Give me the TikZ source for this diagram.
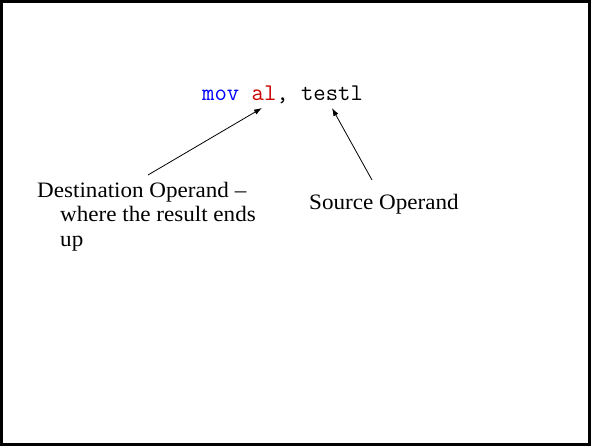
\documentclass[tikz,border=0pt]{standalone}
\usepackage{fontspec}
\setmainfont[FakeStretch=1.05]{Liberation Serif}
\usetikzlibrary{arrows.meta}
\definecolor{kwblue}{RGB}{0,0,255}
\definecolor{regred}{RGB}{204,0,0}
\begin{document}
\begin{tikzpicture}[x=1pt,y=-1pt,
  label text/.style={inner sep=0pt,anchor=base west,font=\fontsize{22}{24.5}\selectfont},
  code text/.style={inner sep=0pt,anchor=base west,font=\ttfamily\fontsize{24}{28}\selectfont},
  pointer/.style={line width=0.8pt,-{Latex[length=8pt,width=5.5pt]}}]
  % page frame
  \useasboundingbox (0,0) rectangle (591,446);
  \draw[line width=3pt] (1.5,1.5) rectangle (589.5,444.5);

  % the instruction
  \node[code text] (code) at (202,101)
    {\textcolor{kwblue}{mov} \textcolor{regred}{al}, testl};

  % operand labels
  \node[label text] (dest1) at (37,197.5) {Destination Operand –};
  \node[label text] (dest2) at (60,222) {where the result ends};
  \node[label text] (dest3) at (60,246.5) {up};
  \node[label text] (src) at (309,210) {Source Operand};

  % pointer ends
  \coordinate (destTail) at (148,175);
  \coordinate (destTip) at (262,108);
  \coordinate (srcTail) at (372,180);
  \coordinate (srcTip) at (332,108);

  \draw[pointer] (destTail) -- (destTip);
  \draw[pointer] (srcTail) -- (srcTip);
\end{tikzpicture}
\end{document}
